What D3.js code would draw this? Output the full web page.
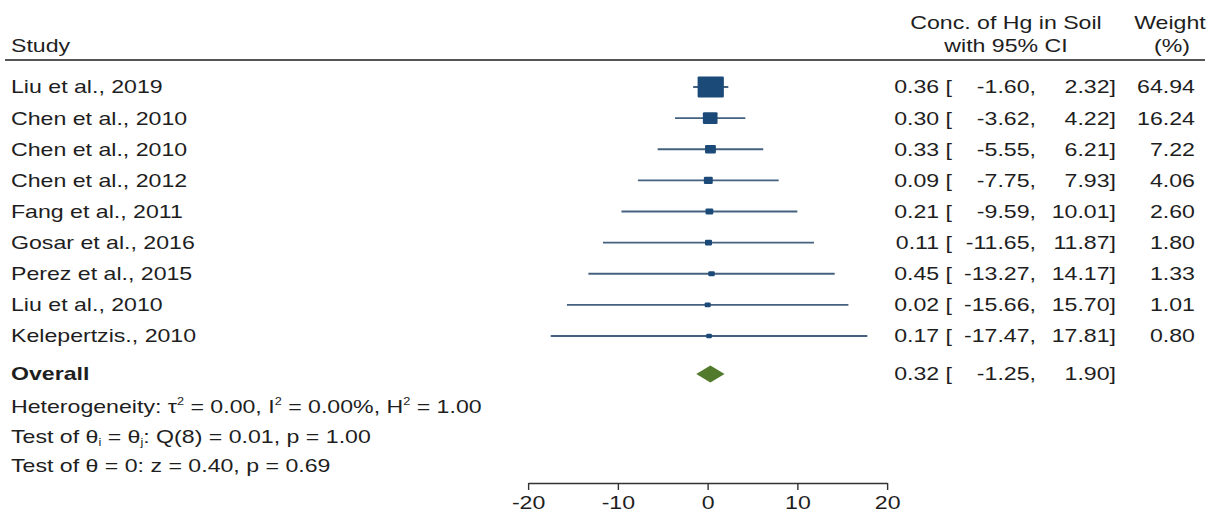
<!DOCTYPE html>
<html>
<head>
<meta charset="utf-8">
<script src="https://cdn.jsdelivr.net/npm/d3@7"></script>
<style>
  html, body { margin: 0; padding: 0; background: #fff; }
  svg { display: block; }
  text { font-family: "Liberation Sans", Arial, sans-serif; fill: #1e1e1e; }
</style>
</head>
<body>
<svg id="chart"></svg>
<script>
// study rows
const studies = [
  "Liu et al., 2019", "Chen et al., 2010", "Chen et al., 2010", "Chen et al., 2012",
  "Fang et al., 2011", "Gosar et al., 2016", "Perez et al., 2015", "Liu et al., 2010",
  "Kelepertzis., 2010"
];
const estimates = [0.36, 0.30, 0.33, 0.09, 0.21, 0.11, 0.45, 0.02, 0.17];
const lower = [-1.60, -3.62, -5.55, -7.75, -9.59, -11.65, -13.27, -15.66, -17.47];
const upper = [2.32, 4.22, 6.21, 7.93, 10.01, 11.87, 14.17, 15.70, 17.81];
const weights = [64.94, 16.24, 7.22, 4.06, 2.60, 1.80, 1.33, 1.01, 0.80];

// overall effect [estimate, lower, upper]
const overall = [0.32, -1.25, 1.90];
const xTicks = [-20, -10, 0, 10, 20];

const width = 1209, height = 512;
// the reference is stretched sideways, so draw in a narrower viewBox
const S = 1.25;
const X = (px) => px / S;

const svg = d3.select("#chart")
  .attr("width", width)
  .attr("height", height)
  .attr("viewBox", `0 0 ${width / S} ${height}`)
  .attr("preserveAspectRatio", "none");

const fs = 18.5;
const boxColor = "#1b4a78";
const lineColor = "#44617f";
const diamondColor = "#527a2d";

const xScale = d3.scaleLinear().domain([-20, 20]).range([X(528), X(887)]);
const yScale = d3.scalePoint().domain(d3.range(studies.length)).range([87, 336]);
const sizeScale = d3.scaleSqrt().domain([0, d3.max(weights)]).range([2.5, 21]);

const fmt = d3.format(".2f");
const hy = (v) => fmt(v).replace("\u2212", "-");

// header
svg.append("text").attr("x", X(11)).attr("y", 52).attr("font-size", fs).text("Study");
svg.append("text").attr("x", X(1006)).attr("y", 29).attr("font-size", fs)
  .attr("text-anchor", "middle").text("Conc. of Hg in Soil");
svg.append("text").attr("x", X(1006)).attr("y", 52).attr("font-size", fs)
  .attr("text-anchor", "middle").text("with 95% CI");
svg.append("text").attr("x", X(1170)).attr("y", 29).attr("font-size", fs)
  .attr("text-anchor", "middle").text("Weight");
svg.append("text").attr("x", X(1172)).attr("y", 52).attr("font-size", fs)
  .attr("text-anchor", "middle").text("(%)");

svg.append("line")
  .attr("x1", X(5)).attr("x2", X(1205))
  .attr("y1", 60).attr("y2", 60)
  .attr("stroke", "#555").attr("stroke-width", 2);

// rows
const rows = svg.append("g").selectAll("g")
  .data(studies.map((s, i) => ({
    name: s, est: estimates[i], lo: lower[i], hi: upper[i], w: weights[i], y: yScale(i)
  })))
  .join("g");

rows.append("text").attr("x", X(11)).attr("y", (d) => d.y + 6.5)
  .attr("font-size", fs).text((d) => d.name);

rows.append("line")
  .attr("x1", (d) => xScale(d.lo)).attr("x2", (d) => xScale(d.hi))
  .attr("y1", (d) => d.y).attr("y2", (d) => d.y)
  .attr("stroke", lineColor).attr("stroke-width", 1.8);

rows.append("rect")
  .attr("x", (d) => xScale(d.est) - sizeScale(d.w) / 2)
  .attr("y", (d) => d.y - sizeScale(d.w) / 2)
  .attr("width", (d) => sizeScale(d.w))
  .attr("height", (d) => sizeScale(d.w))
  .attr("rx", 1)
  .attr("fill", boxColor);

rows.append("text").attr("x", X(952)).attr("y", (d) => d.y + 6.5)
  .attr("font-size", fs).attr("text-anchor", "end").text((d) => hy(d.est) + " [");
rows.append("text").attr("x", X(1036)).attr("y", (d) => d.y + 6.5)
  .attr("font-size", fs).attr("text-anchor", "end").text((d) => hy(d.lo) + ",");
rows.append("text").attr("x", X(1116)).attr("y", (d) => d.y + 6.5)
  .attr("font-size", fs).attr("text-anchor", "end").text((d) => hy(d.hi) + "]");
rows.append("text").attr("x", X(1195)).attr("y", (d) => d.y + 6.5)
  .attr("font-size", fs).attr("text-anchor", "end").text((d) => fmt(d.w));

// overall
const oy = 374;
svg.append("text").attr("x", X(11)).attr("y", oy + 6.5).attr("font-size", fs)
  .attr("font-weight", "bold").text("Overall");
svg.append("path")
  .attr("d", d3.line()([
    [xScale(overall[1]), oy], [xScale(overall[0]), oy - 8.5],
    [xScale(overall[2]), oy], [xScale(overall[0]), oy + 8.5]
  ]) + "Z")
  .attr("fill", diamondColor);
svg.append("text").attr("x", X(952)).attr("y", oy + 6.5).attr("font-size", fs)
  .attr("text-anchor", "end").text(hy(overall[0]) + " [");
svg.append("text").attr("x", X(1036)).attr("y", oy + 6.5).attr("font-size", fs)
  .attr("text-anchor", "end").text(hy(overall[1]) + ",");
svg.append("text").attr("x", X(1116)).attr("y", oy + 6.5).attr("font-size", fs)
  .attr("text-anchor", "end").text(hy(overall[2]) + "]");

// statistics lines: [text, shift] pieces, shift < 0 raises (superscript)
function richText(y, parts) {
  const t = svg.append("text").attr("x", X(11)).attr("y", y).attr("font-size", fs)
    .attr("xml:space", "preserve");
  let cur = 0;
  parts.forEach(([txt, shift]) => {
    t.append("tspan")
      .attr("dy", shift - cur)
      .attr("font-size", shift === 0 ? fs : fs * 0.55)
      .text(txt);
    cur = shift;
  });
}

richText(413.5, [
  ["Heterogeneity: \u03c4", 0], ["2", -8], [" = 0.00, I", 0], ["2", -8],
  [" = 0.00%, H", 0], ["2", -8], [" = 1.00", 0]
]);
richText(443.5, [
  ["Test of \u03b8", 0], ["i", 3], [" = \u03b8", 0], ["j", 3],
  [": Q(8) = 0.01, p = 1.00", 0]
]);
richText(472.5, [["Test of \u03b8 = 0: z = 0.40, p = 0.69", 0]]);

// axis
const axis = svg.append("g")
  .attr("transform", "translate(0,483)")
  .call(d3.axisBottom(xScale).tickValues(xTicks).tickSize(7).tickSizeOuter(0)
    .tickPadding(6).tickFormat((d) => String(d)));
axis.selectAll("path, line").attr("stroke", "#333").attr("stroke-width", 1.4)
  .attr("vector-effect", "non-scaling-stroke");
axis.selectAll("text").attr("font-size", fs).attr("fill", "#1e1e1e")
  .style("font-family", "'Liberation Sans', Arial, sans-serif");
</script>
</body>
</html>
